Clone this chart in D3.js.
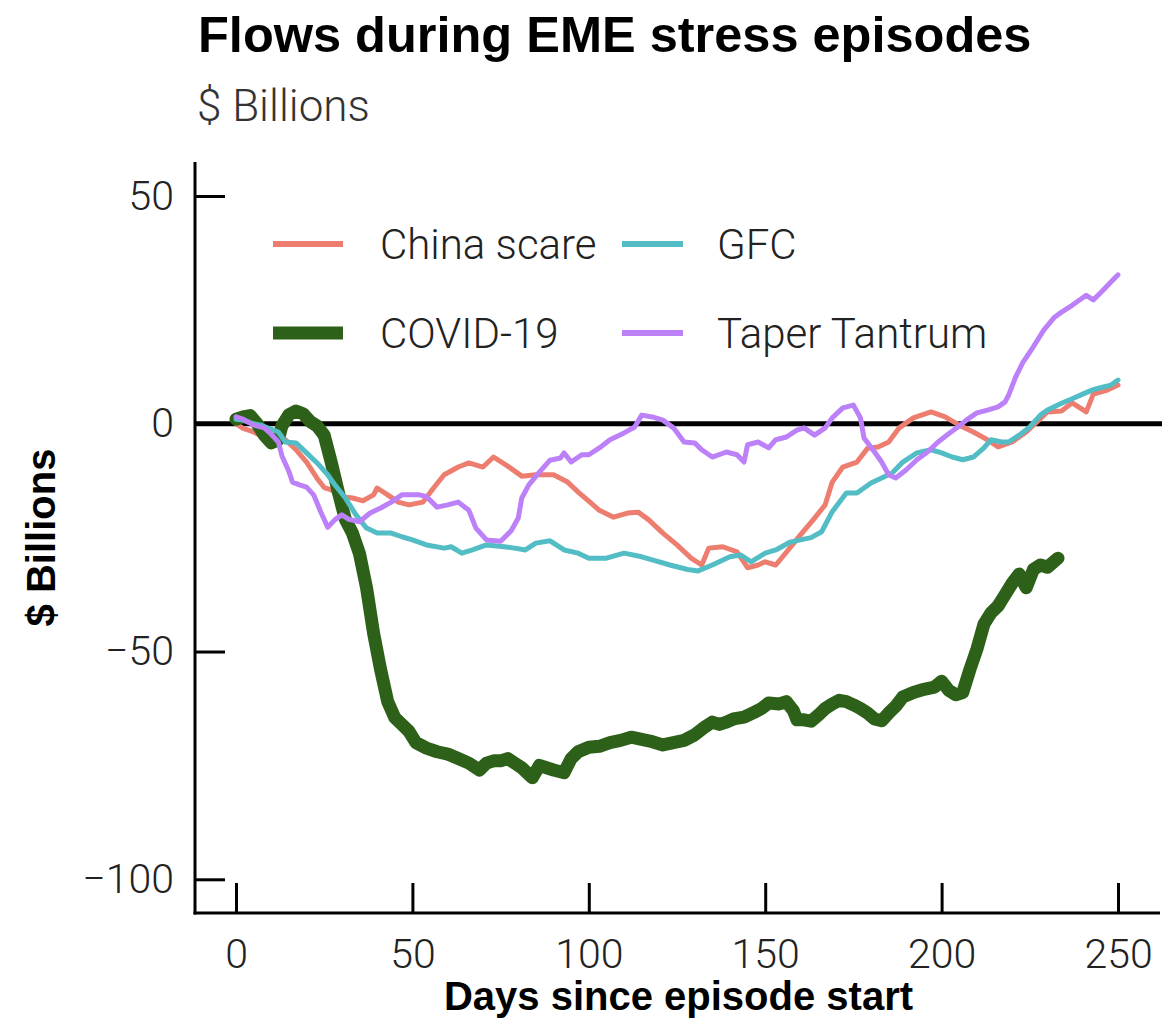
<!DOCTYPE html>
<html>
<head>
<meta charset="utf-8">
<script src="https://cdn.jsdelivr.net/npm/d3@7"></script>
<style>
  html, body { margin: 0; padding: 0; background: #fff; }
  svg text { font-family: "Liberation Sans", Arial, Helvetica, sans-serif; }
  .light { font-family: Roboto, "Liberation Sans", Arial, sans-serif; font-weight: 300; }
</style>
</head>
<body>
<div id="chart"></div>
<script>
// Series: [day since episode start, $ billions]
const CHINA_SCARE = [
  [0, 0], [2, -1], [5, -1.8], [8, -3], [11, -3.1], [14, -3.5], [17, -5.7], [20, -8.4],
  [23, -12], [25, -14], [27, -14.5], [30, -16], [33, -16.3], [36, -16.9], [39, -15.6],
  [40, -14.1], [43, -15.6], [46, -17.2], [49, -17.8], [53, -17.2], [56, -14.1], [59, -11.2],
  [63, -9.5], [66, -8.6], [70, -9.5], [73, -7.3], [77, -9.3], [81, -11.5], [85, -11.2],
  [90, -11.2], [94, -12.8], [97, -15], [100, -17], [103, -19], [107, -20.5], [111, -19.6],
  [114, -19.4], [117, -21.1], [121, -24], [125, -26.6], [129, -29.5], [132, -31], [134, -27.3],
  [138, -27], [142, -28.1], [145, -31.6], [148, -31], [150, -30.3], [153, -31], [156, -28.2],
  [160, -24.4], [164, -20.7], [167, -17.8], [169, -12.8], [172, -9.5], [176, -8.4], [179, -5.4],
  [182, -5.1], [185, -4], [188, -0.9], [192, 1.3], [197, 2.6], [201, 1.5], [205, -0.3],
  [209, -1.8], [213, -3.5], [216, -5.1], [220, -4], [224, -1.8], [227, 0.4], [230, 2.6],
  [234, 2.8], [237, 4.6], [241, 2.6], [243, 6.5], [247, 7.4], [250, 8.5]
];

const COVID = [
  [0, 1], [2, 1.5], [4, 1.8], [6, 0], [8, -2.5], [10, -4.2], [12, -3.5], [13, -0.5],
  [15, 2], [17, 2.8], [19, 2.2], [21, 0.5], [23, -0.5], [25, -2.5], [27, -8.5], [29, -15],
  [31, -21], [33, -24], [35, -28.5], [37, -36], [39, -46], [41, -54], [43, -61], [45, -64.5],
  [47, -66], [49, -67.5], [51, -70], [54, -71.2], [57, -72], [60, -72.5], [63, -73.5],
  [66, -74.5], [69, -76], [71, -74.5], [73, -74], [75, -74], [77, -73.5], [79, -74.5],
  [81, -75.5], [84, -77.7], [86, -75], [88, -75.5], [90, -76], [93, -76.6], [95, -73.5],
  [97, -72], [100, -71], [103, -70.8], [106, -70], [109, -69.5], [112, -68.8], [115, -69.3],
  [118, -69.8], [121, -70.5], [124, -70], [127, -69.5], [130, -68.3], [133, -66.5],
  [135, -65.5], [137, -66], [139, -65.5], [141, -64.8], [144, -64.4], [147, -63.3],
  [149, -62.5], [151, -61.3], [154, -61.5], [156, -61], [158, -63], [159, -65], [161, -65],
  [163, -65.3], [165, -64], [167, -62.5], [169, -61.5], [171, -60.7], [173, -61], [175, -61.7],
  [177, -62.5], [179, -63.5], [181, -64.8], [183, -65.2], [185, -63.5], [187, -62], [189, -60],
  [192, -59], [195, -58.3], [198, -57.8], [200, -56.5], [202, -58.5], [204, -59.5], [206, -59],
  [208, -54], [210, -49.5], [212, -44], [214, -41.5], [216, -40], [218, -37.5], [220, -35],
  [222, -33], [224, -36], [226, -32], [228, -31], [230, -31.5], [233, -29.5]
];

const GFC = [
  [0, 1], [2, 0.8], [5, 0], [7, -0.3], [10, -1.2], [12, -1.8], [14, -4], [17, -4.2],
  [20, -6.4], [23, -8.6], [26, -11.2], [28, -13.4], [31, -16.3], [34, -20], [37, -22.9],
  [40, -24], [44, -24], [47, -24.8], [50, -25.5], [54, -26.6], [59, -27.3], [61, -27],
  [64, -28.4], [67, -27.7], [71, -26.6], [76, -27], [79, -27.3], [82, -27.7], [85, -26.2],
  [89, -25.7], [93, -27.7], [97, -28.4], [100, -29.5], [105, -29.5], [110, -28.4], [115, -29.2],
  [118, -29.9], [123, -31], [128, -32], [131, -32.3], [135, -31], [140, -29.2], [143, -28.8],
  [146, -30.3], [150, -28.4], [153, -27.7], [157, -26], [160, -25.5], [163, -25], [166, -23.7],
  [169, -19.3], [173, -15.2], [176, -15.2], [180, -13], [183, -11.9], [186, -10.8], [189, -8.4],
  [193, -6.4], [197, -5.7], [200, -6.4], [203, -7.3], [206, -7.9], [209, -7.3], [212, -5.3],
  [214, -3.5], [217, -4], [219, -4], [222, -2.5], [225, -0.7], [228, 1.9], [230, 3],
  [234, 4.5], [237, 5.5], [240, 6.5], [243, 7.5], [245, 7.9], [248, 8.5], [250, 9.6]
];

const TAPER_TANTRUM = [
  [0, 1.5], [2, 1], [5, -0.3], [8, -0.9], [10, -2.3], [12, -4], [13, -7], [15, -10.5],
  [16, -12.8], [18, -13.4], [20, -13.9], [22, -15.6], [24, -19.3], [26, -22.7], [28, -21.1],
  [30, -20], [32, -21], [35, -21.5], [38, -19.6], [41, -18.5], [44, -17.2], [47, -15.6],
  [50, -15.6], [52, -15.6], [54, -16], [57, -18.3], [60, -17.8], [63, -17.2], [66, -19],
  [68, -22.9], [71, -25.5], [75, -25.8], [78, -23.5], [80, -20.7], [81, -16.3], [83, -13.4],
  [86, -10.6], [89, -8], [92, -7.5], [93, -6.4], [95, -8.4], [98, -6.8], [100, -6.8],
  [103, -5.3], [106, -3.5], [110, -2], [113, -0.7], [115, 1.9], [118, 1.5], [121, 0.8],
  [124, -0.9], [127, -4], [130, -4.2], [132, -5.7], [135, -7.3], [139, -6.2], [142, -6.8],
  [144, -8.4], [145, -4.6], [148, -4], [151, -5.3], [153, -3.5], [156, -2.9], [159, -1.4],
  [161, -0.9], [164, -2.5], [167, -0.9], [169, 1.3], [172, 3.5], [175, 4.1], [177, 1.3],
  [178, -3.1], [181, -6.2], [183, -8.4], [185, -11.2], [187, -11.9], [190, -10.1], [193, -7.9],
  [196, -6.2], [199, -4], [202, -2.2], [205, -0.5], [207, 0.8], [210, 2.4], [213, 3],
  [216, 3.7], [218, 4.8], [219, 6.3], [221, 10.3], [223, 13.4], [226, 16.9], [229, 20.6],
  [232, 23.4], [234, 24.5], [237, 26], [241, 28.2], [243, 27.2], [245, 28.7], [248, 31.1],
  [250, 32.7]
];

const X_TICKS = [0, 50, 100, 150, 200, 250];
const Y_TICKS = [50, 0, -50, -100];

// draw order follows the legend (alphabetical), so teal/purple sit above the green
const SERIES = [
  { name: 'China scare', data: CHINA_SCARE, color: '#ec7d6f', width: 5 },
  { name: 'COVID-19', data: COVID, color: '#2d6119', width: 13 },
  { name: 'GFC', data: GFC, color: '#52bdc4', width: 5 },
  { name: 'Taper Tantrum', data: TAPER_TANTRUM, color: '#bc80f8', width: 5 }
];

const width = 1162;
const height = 1018;

const svg = d3.select('#chart').append('svg')
  .attr('width', width)
  .attr('height', height);

// Title + subtitle
svg.append('text')
  .attr('x', 198)
  .attr('y', 52)
  .attr('font-size', 50.5)
  .attr('font-weight', 700)
  .attr('fill', '#000')
  .text('Flows during EME stress episodes');

svg.append('text')
  .attr('class', 'light')
  .attr('x', 197)
  .attr('y', 121)
  .attr('font-size', 44)
  .attr('fill', '#333')
  .text('$ Billions');

// Plot frame
const plot = { left: 195, right: 1160, top: 162, bottom: 913 };

const xScale = d3.scaleLinear().domain([0, 250]).range([236, 1118]);
const yScale = d3.scaleLinear().domain([50, -100]).range([196, 879.3]);

// Axes: ticks point inward, labels outside
const yAxis = svg.append('g')
  .attr('transform', `translate(${plot.left},0)`)
  .call(d3.axisLeft(yScale).tickValues(Y_TICKS).tickSize(-30).tickPadding(21)
    .tickFormat(d => d < 0 ? '\u2212' + Math.abs(d) : d));

const xAxis = svg.append('g')
  .attr('transform', `translate(0,${plot.bottom})`)
  .call(d3.axisBottom(xScale).tickValues(X_TICKS).tickSize(-30).tickPadding(26));

[xAxis, yAxis].forEach(ax => {
  ax.select('.domain').remove();
  ax.selectAll('.tick line').attr('stroke', '#000').attr('stroke-width', 3);
  ax.selectAll('.tick text')
    .attr('class', 'light')
    .attr('font-size', 41)
    .attr('fill', '#222');
});

svg.append('line')
  .attr('x1', plot.left).attr('x2', plot.left)
  .attr('y1', plot.top).attr('y2', plot.bottom + 1.5)
  .attr('stroke', '#000').attr('stroke-width', 3);

svg.append('line')
  .attr('x1', plot.left - 1.5).attr('x2', plot.right)
  .attr('y1', plot.bottom).attr('y2', plot.bottom)
  .attr('stroke', '#000').attr('stroke-width', 3);

// Axis titles
svg.append('text')
  .attr('x', (plot.left + plot.right) / 2 + 1)
  .attr('y', 1010)
  .attr('text-anchor', 'middle')
  .attr('font-size', 40)
  .attr('font-weight', 700)
  .text('Days since episode start');

svg.append('text')
  .attr('transform', 'rotate(-90)')
  .attr('x', -(plot.top + plot.bottom) / 2)
  .attr('y', 55)
  .attr('text-anchor', 'middle')
  .attr('font-size', 40)
  .attr('font-weight', 700)
  .text('$ Billions');

// Zero line
svg.append('line')
  .attr('x1', plot.left).attr('x2', width)
  .attr('y1', yScale(0)).attr('y2', yScale(0))
  .attr('stroke', '#000').attr('stroke-width', 5);

// Series lines
const line = d3.line()
  .x(d => xScale(d[0]))
  .y(d => yScale(d[1]));

SERIES.forEach(s => {
  svg.append('path')
    .datum(s.data)
    .attr('d', line)
    .attr('fill', 'none')
    .attr('stroke', s.color)
    .attr('stroke-width', s.width)
    .attr('stroke-linejoin', 'round')
    .attr('stroke-linecap', 'round');
});

// Legend: two columns, filled column-wise
const legendCols = [273, 622];
const legendRows = [244, 333];
SERIES.forEach((s, i) => {
  const col = Math.floor(i / 2);
  const row = i % 2;
  const lx = legendCols[col];
  const ly = legendRows[row];
  svg.append('line')
    .attr('x1', lx).attr('x2', lx + (col === 0 ? 70 : 61))
    .attr('y1', ly).attr('y2', ly)
    .attr('stroke', s.color)
    .attr('stroke-width', s.width === 13 ? 13 : 6);
  svg.append('text')
    .attr('class', 'light')
    .attr('x', col === 0 ? 380 : 717)
    .attr('y', ly)
    .attr('dy', '0.36em')
    .attr('font-size', 42)
    .attr('fill', '#222')
    .text(s.name);
});
</script>
</body>
</html>
